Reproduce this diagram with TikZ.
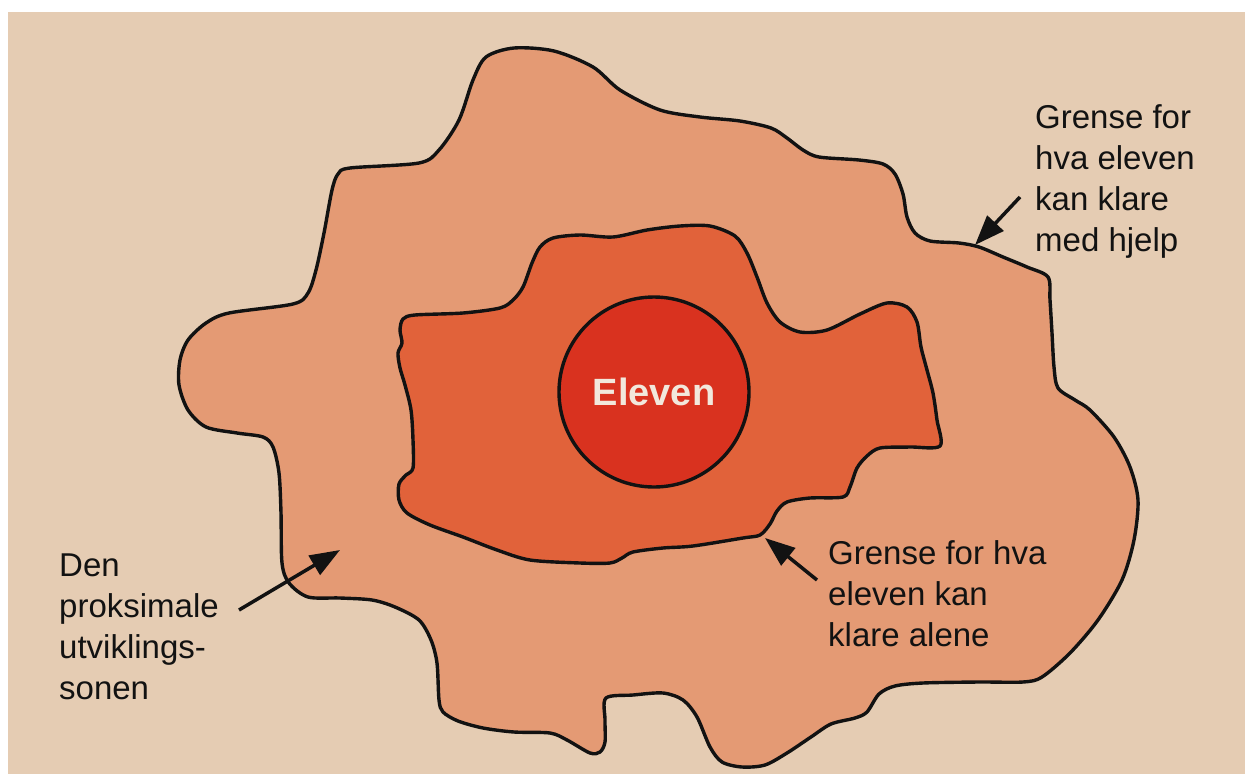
\documentclass[tikz,border=0pt]{standalone}
\usepackage{fontspec}
\setmainfont{Liberation Sans}
\usetikzlibrary{arrows.meta}
\definecolor{page}{HTML}{E5CCB3}
\definecolor{zone}{HTML}{E49A74}
\definecolor{inner}{HTML}{E1623A}
\definecolor{selfred}{HTML}{D9321F}
\definecolor{cream}{HTML}{F2E8DC}
\definecolor{ink}{HTML}{121212}
\begin{document}
\begin{tikzpicture}[x=1pt,y=-1pt,
  outline/.style={draw=ink, line width=3.4pt, line join=round},
  lbl/.style={anchor=north west, inner sep=0pt, align=left, font=\fontsize{33}{41}\selectfont, text=ink},
  pointer/.style={draw=ink, line width=3.5pt, -{Triangle[length=30pt,width=22pt]}}
]
\useasboundingbox (0,0) rectangle (1245,774);
\fill[white] (0,0) rectangle (1245,774);
\fill[page] (8,12) rectangle (1245,774);

% outer zone: what the pupil can manage with help
\draw[outline, fill=zone] plot[smooth cycle, tension=0.5] coordinates {
(514,48) (554,51) (593,67) (620,90) (660,110) (700,117) (740,121) (771,128) (787,138) (803,150) (819,157) (859,160) (883,164) (895,174) (903,194) (907,217) (915,233) (930,241) (959,243) (979,247) (1003,257) (1027,267) (1048,277) (1050,300) (1052,333) (1054,367) (1058,388) (1075,400) (1090,410) (1114,437) (1130,467) (1138,500) (1134,540) (1122,580) (1098,620) (1070,653) (1042,677) (1023,682) (979,682) (923,683) (895,686) (879,694) (867,712) (855,718) (831,724) (811,737) (787,753) (765,765) (742,767) (722,762) (710,747) (697,717) (683,700) (663,693) (633,695) (606,698) (605,720) (605,742) (600,752) (590,753) (567,740) (550,733) (514,732) (483,728) (458,721) (443,712) (439,700) (437,663) (431,640) (419,620) (395,607) (372,600) (340,598) (308,597) (289,583) (282,563) (281,513) (279,473) (273,447) (263,437) (237,433) (206,427) (188,410) (179,385) (180,360) (188,340) (206,323) (229,313) (293,304) (308,293) (316,270) (324,233) (332,190) (338,174) (350,168) (419,163) (439,150) (459,120) (473,80) (486,57)};

% inner zone: what the pupil can manage alone
\draw[outline, fill=inner] plot[smooth cycle, tension=0.5] coordinates {
(553,238) (580,235) (613,237) (647,230) (680,226) (710,226) (735,236) (747,253) (757,277) (767,303) (780,322) (800,332) (827,330) (860,314) (887,303) (907,307) (917,322) (921,347) (927,370) (933,393) (937,420) (940,446) (910,447) (880,448) (867,456) (857,468) (850,487) (843,497) (810,498) (787,502) (777,511) (770,524) (760,535) (743,538) (693,546) (663,548) (633,552) (622,558) (610,563) (580,563) (530,560) (497,550) (463,537) (430,525) (407,513) (399,500) (399,484) (406,475) (413,468) (413,440) (411,410) (405,385) (400,368) (398,353) (402,343) (400,330) (403,319) (415,315) (463,313) (500,308) (513,300) (523,287) (532,263) (540,247)};

% the pupil
\node[circle, draw=ink, line width=3.4pt, fill=selfred, minimum size=190pt, inner sep=0pt,
      text=cream, font=\fontsize{38}{40}\selectfont\bfseries] (self) at (654,392) {Eleven};

% labels
\node[lbl] (help) at (1035,104) {Grense for\\hva eleven\\kan klare\\med hjelp};
\node[lbl] (zpd) at (59,554) {Den\\proksimale\\utviklings-\\sonen};
\node[lbl] (alone) at (828,540) {Grense for hva\\eleven kan\\klare alene};

% pointers
\coordinate (helpTail) at (1020,197);
\coordinate (helpTip) at (975,245);
\coordinate (zpdTail) at (239,610);
\coordinate (zpdTip) at (340,550);
\coordinate (aloneTail) at (817,580);
\coordinate (aloneTip) at (765,538);
\draw[pointer] (helpTail) -- (helpTip);
\draw[pointer] (zpdTail) -- (zpdTip);
\draw[pointer] (aloneTail) -- (aloneTip);
\end{tikzpicture}
\end{document}
